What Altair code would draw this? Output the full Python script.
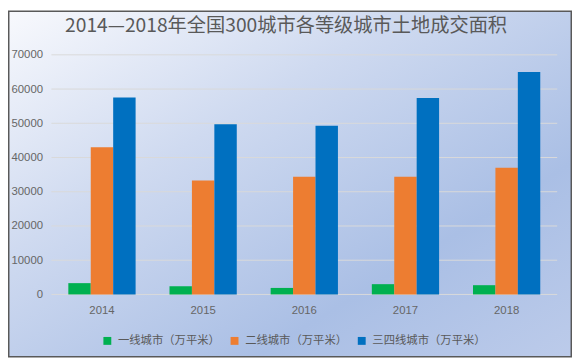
import altair as alt
import pandas as pd

years = ["2014", "2015", "2016", "2017", "2018"]
series = ["一线城市（万平米）", "二线城市（万平米）", "三四线城市（万平米）"]
tier1 = [3300, 2400, 1900, 3000, 2700]
tier2 = [43000, 33300, 34400, 34400, 37000]
tier34 = [57500, 49700, 49300, 57400, 65000]
colors = ["#00b050", "#ed7d31", "#0070c0"]
y_ticks = [0, 10000, 20000, 30000, 40000, 50000, 60000, 70000]
title_text = "2014—2018年全国300城市各等级城市土地成交面积"

rows = []
for i, y in enumerate(years):
    for s, vals in zip(series, [tier1, tier2, tier34]):
        rows.append({"year": y, "series": s, "value": vals[i]})
df = pd.DataFrame(rows)

W, H = 513, 243
PL, PT, PR, PB = 44, 45, 15, 64

font = "Noto Sans CJK SC"
num_font = "Liberation Sans"
lab = dict(labelFont=num_font, labelFontSize=11.5, labelColor="#666666",
           labelFontWeight="normal")

yscale = alt.Scale(domain=[0, 70000], nice=False)
yaxis = alt.Axis(title=None, values=y_ticks, format="d", ticks=False,
                 domain=False, grid=False, labelPadding=9, zindex=1, **lab)

bg = alt.Chart(pd.DataFrame({"a": [0]})).mark_rect(
    color=alt.Gradient(
        gradient="linear",
        stops=[
            alt.GradientStop(color="#f8f9fd", offset=0),
            alt.GradientStop(color="#cfdaf0", offset=0.35),
            alt.GradientStop(color="#aabfe5", offset=0.72),
            alt.GradientStop(color="#bccbea", offset=1),
        ],
        x1=0, y1=0, x2=1, y2=1,
    ),
    stroke="#595959",
    strokeWidth=1.5,
).encode(
    x=alt.value(-PL + 0.75), x2=alt.value(W + PR - 0.75),
    y=alt.value(-PT + 0.75), y2=alt.value(H + PB - 0.75),
)

grid = alt.Chart(pd.DataFrame({"t": y_ticks})).mark_rule(
    color="#d9d9d9", strokeWidth=1
).encode(
    y=alt.Y("t:Q", scale=yscale, axis=yaxis),
    x=alt.value(0), x2=alt.value(W),
)

title = alt.Chart(pd.DataFrame({"t": [title_text]})).mark_text(
    font=font, fontSize=19.5, color="#595959", align="center", baseline="middle"
).encode(
    text="t:N", x=alt.value(238), y=alt.value(-29),
)

bars = alt.Chart(df).mark_bar().encode(
    x=alt.X("year:N", sort=years,
            scale=alt.Scale(paddingInner=0.335, paddingOuter=0.1675),
            axis=alt.Axis(title=None, labelAngle=0, ticks=False, domain=False,
                          labelPadding=10, grid=False, zindex=1, **lab)),
    xOffset=alt.XOffset("series:N", sort=series, scale=alt.Scale(paddingInner=0, paddingOuter=0)),
    y=alt.Y("value:Q", scale=yscale, axis=yaxis),
    color=alt.Color("series:N", sort=series,
                    scale=alt.Scale(domain=series, range=colors),
                    legend=alt.Legend(title=None, orient="none", direction="horizontal",
                                      legendX=51, legendY=284, symbolType="square",
                                      symbolSize=64, symbolStrokeWidth=0,
                                      labelFontSize=11.5, labelColor="#595959",
                                      labelFont=font, columnPadding=9, labelOffset=5)),
)

chart = alt.layer(bg, grid, title, bars).resolve_scale(y="shared").properties(
    width=W, height=H,
    padding={"left": PL, "top": PT, "right": PR, "bottom": PB},
    autosize=alt.AutoSizeParams(type="none"),
).configure_view(stroke=None).configure(background="white")

chart.save("out.html", embed_options={"renderer": "svg", "actions": False})
